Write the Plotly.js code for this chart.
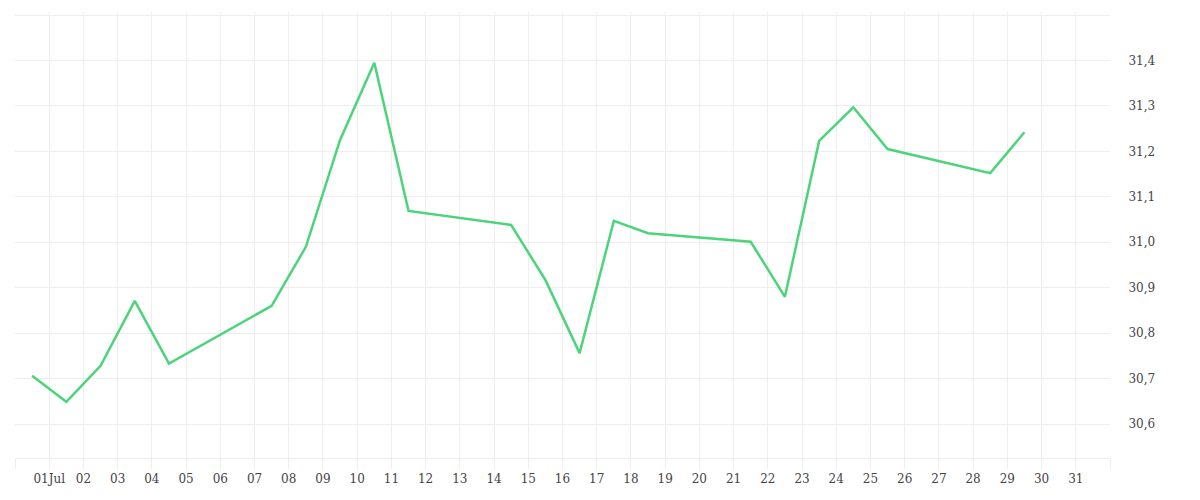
<!DOCTYPE html>
<html>
<head>
<meta charset="utf-8">
<script src="https://cdn.plot.ly/plotly-3.0.1.min.js"></script>
<style>html,body{margin:0;padding:0;background:#fff;}#chart{width:1200px;height:500px;}</style>
</head>
<body>
<div id="chart"></div>
<script>
var dates = ["2025-06-30","2025-07-01","2025-07-02","2025-07-03","2025-07-04",
  "2025-07-07","2025-07-08","2025-07-09","2025-07-10","2025-07-11",
  "2025-07-14","2025-07-15","2025-07-16","2025-07-17","2025-07-18",
  "2025-07-21","2025-07-22","2025-07-23","2025-07-24","2025-07-25",
  "2025-07-28","2025-07-29"];
var values = [30.706,30.649,30.728,30.871,30.733,
  30.860,30.990,31.225,31.395,31.069,
  31.038,30.917,30.756,31.047,31.020,
  31.001,30.880,31.223,31.297,31.205,
  31.152,31.242];
var tickDates = ["2025-06-30","2025-07-01","2025-07-02","2025-07-03","2025-07-04","2025-07-05","2025-07-06","2025-07-07","2025-07-08","2025-07-09","2025-07-10","2025-07-11","2025-07-12","2025-07-13","2025-07-14","2025-07-15","2025-07-16","2025-07-17","2025-07-18","2025-07-19","2025-07-20","2025-07-21","2025-07-22","2025-07-23","2025-07-24","2025-07-25","2025-07-26","2025-07-27","2025-07-28","2025-07-29","2025-07-30","2025-07-31","2025-08-01"];
var tickLabels = ["","01Jul","02","03","04","05","06","07","08","09","10","11","12","13","14","15","16","17","18","19","20","21","22","23","24","25","26","27","28","29","30","31",""];
var yTicks = [30.6,30.7,30.8,30.9,31.0,31.1,31.2,31.3,31.4,31.5];

var trace = {
  x: dates, y: values, type: 'scatter', mode: 'lines',
  xperiod: 86400000, xperiodalignment: 'middle',
  line: {color: '#4cd47b', width: 2.5},
  hoverinfo: 'x+y'
};
var grid = '#eeeeee';
var layout = {
  width: 1200, height: 500,
  margin: {l: 15, r: 90, t: 12, b: 42},
  paper_bgcolor: '#fff', plot_bgcolor: '#fff',
  separators: ',.',
  showlegend: false,
  font: {family: 'DejaVu Serif', size: 12, color: '#444'},
  xaxis: {
    type: 'date',
    range: ['2025-06-30', '2025-08-01'],
    tickmode: 'array', tickvals: tickDates, ticktext: tickLabels,
    showgrid: true, gridcolor: grid, gridwidth: 1,
    ticks: 'outside', ticklen: 10, tickcolor: grid, tickwidth: 1,
    showline: true, linecolor: grid, linewidth: 1,
    zeroline: false,
    tickfont: {family: 'DejaVu Serif', size: 12, color: '#444'}
  },
  yaxis: {
    side: 'right',
    range: [30.5253, 31.5066],
    tickmode: 'array', tickvals: yTicks,
    ticktext: yTicks.map(function(v){ return v === 31.5 ? '' : v.toFixed(1).replace('.', ','); }),
    showgrid: true, gridcolor: grid, gridwidth: 1,
    ticks: 'outside', ticklen: 15, tickcolor: 'rgba(0,0,0,0)',
    showline: false, zeroline: false,
    tickfont: {family: 'DejaVu Serif', size: 12, color: '#444'}
  }
};
Plotly.newPlot('chart', [trace], layout, {displayModeBar: false, staticPlot: true});
</script>
</body>
</html>
